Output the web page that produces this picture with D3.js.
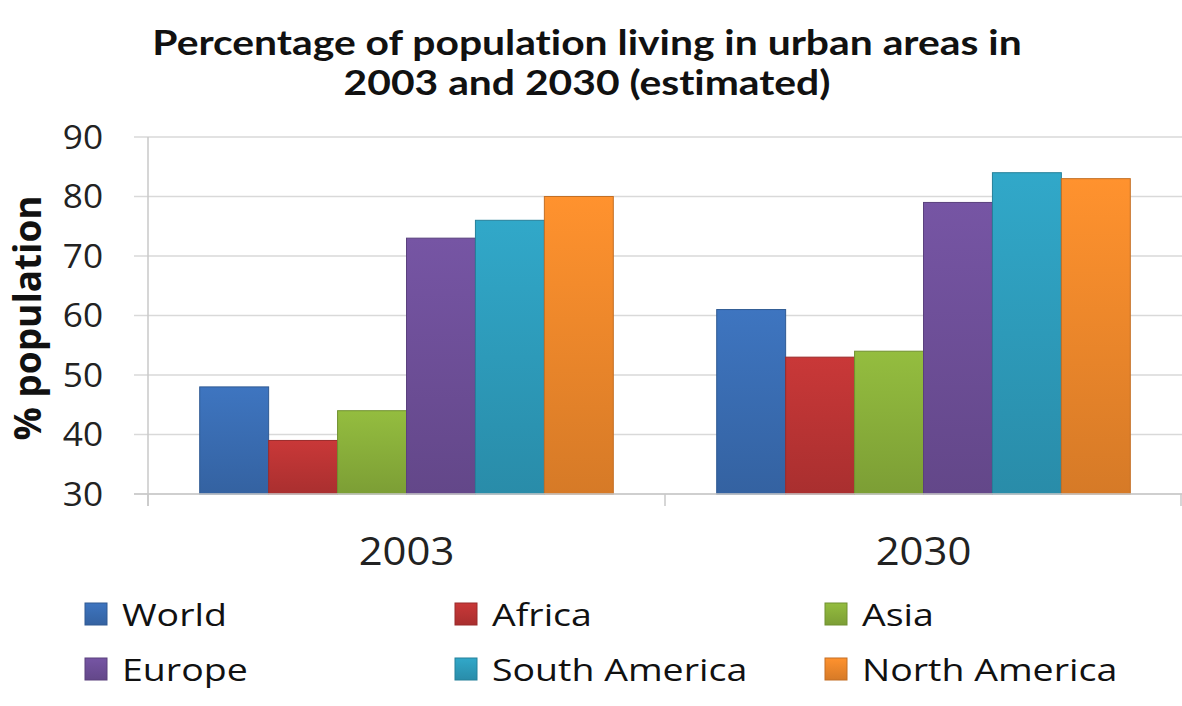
<!DOCTYPE html>
<html>
<head>
<meta charset="utf-8">
<script src="https://cdn.jsdelivr.net/npm/d3@7"></script>
<style>
  body { margin: 0; background: #fff; }
  svg { display: block; }
  text { font-variant-ligatures: none; }
</style>
</head>
<body>
<svg id="chart" width="1182" height="706"></svg>
<script>
// chart data
var years = ["2003", "2030"];
var regions = ["World", "Africa", "Asia", "Europe", "South America", "North America"];
var values2003 = [48, 39, 44, 73, 76, 80];
var values2030 = [61, 53, 54, 79, 84, 83];
var yTicks = [30, 40, 50, 60, 70, 80, 90];
var colors = ["#3b6fb6", "#bf3535", "#8cb33c", "#70519b", "#2e9fbf", "#f28a2c"];

var svg = d3.select("#chart");
var plotLeft = 148, plotRight = 1182, plotTop = 137, plotBottom = 494;

// x: year groups, then region bars inside each group
var x0 = d3.scaleBand().domain(years).range([plotLeft, plotRight]).paddingInner(0.2).paddingOuter(0.1);
var x1 = d3.scaleBand().domain(regions).range([0, x0.bandwidth()]);
var y = d3.scaleLinear().domain([30, 90]).range([plotBottom, plotTop]);
var color = d3.scaleOrdinal().domain(regions).range(colors);

// the original picture is a bit stretched sideways, so text gets an x scale
function wideText(parent, x, yPos, sx, str) {
    return parent.append("g")
        .attr("transform", "translate(" + x + "," + yPos + ") scale(" + sx + ",1)")
        .append("text")
        .text(str);
}

// gradients to get the bevelled bar look
var defs = svg.append("defs");
regions.forEach(function(r, i) {
    var c = d3.color(colors[i]);
    var g = defs.append("linearGradient").attr("id", "grad" + i)
        .attr("x1", 0).attr("y1", 0).attr("x2", 0).attr("y2", 1);
    g.append("stop").attr("offset", "0%").attr("stop-color", c.brighter(0.15));
    g.append("stop").attr("offset", "100%").attr("stop-color", c.darker(0.35));
});

// title
[["Percentage of population living in urban areas in", 55],
 ["2003 and 2030 (estimated)", 95]].forEach(function(t) {
    wideText(svg, 587, t[1], 1.2, t[0])
        .attr("text-anchor", "middle")
        .attr("font-family", "Lato, sans-serif")
        .attr("font-weight", "bold")
        .attr("font-size", 34)
        .attr("fill", "#111");
});

// gridlines
svg.append("g")
    .selectAll("line")
    .data(yTicks)
    .join("line")
    .attr("x1", plotLeft - 14)
    .attr("x2", plotRight)
    .attr("y1", d => y(d))
    .attr("y2", d => y(d))
    .attr("stroke", "#d9d9d9")
    .attr("stroke-width", 1.5);

// y axis: ticks from the scale, labels drawn stretched
var yAxis = svg.append("g")
    .attr("transform", "translate(" + plotLeft + ",0)")
    .call(d3.axisLeft(y).tickValues(yTicks).tickSize(0).tickFormat(""));
yAxis.select(".domain").remove();
yAxis.selectAll(".tick").each(function(d) {
    wideText(d3.select(this), -45, 11, 1.1, d)
        .attr("text-anchor", "end")
        .attr("font-family", "'Open Sans', sans-serif")
        .attr("font-size", 32)
        .attr("fill", "#222");
});

svg.append("line")
    .attr("x1", plotLeft).attr("x2", plotLeft)
    .attr("y1", plotTop).attr("y2", plotBottom + 12)
    .attr("stroke", "#c8c8c8").attr("stroke-width", 1.5);

// x axis labels
years.forEach(function(yr) {
    wideText(svg, x0(yr) + x0.bandwidth() / 2, 565, 1.1, yr)
        .attr("text-anchor", "middle")
        .attr("font-family", "'Open Sans', sans-serif")
        .attr("font-size", 38)
        .attr("fill", "#222");
});

svg.append("g")
    .selectAll("line")
    .data([plotLeft, plotLeft + x0.step(), plotRight - 1])
    .join("line")
    .attr("x1", d => d).attr("x2", d => d)
    .attr("y1", plotBottom).attr("y2", plotBottom + 12)
    .attr("stroke", "#c8c8c8").attr("stroke-width", 1.5);

// bars
var table = years.map(function(yr, i) {
    var vals = i === 0 ? values2003 : values2030;
    return { year: yr, items: regions.map((r, j) => ({ region: r, value: vals[j], idx: j })) };
});

svg.append("g")
    .selectAll("g")
    .data(table)
    .join("g")
    .attr("transform", d => "translate(" + x0(d.year) + ",0)")
    .selectAll("rect")
    .data(d => d.items)
    .join("rect")
    .attr("x", d => x1(d.region))
    .attr("y", d => y(d.value))
    .attr("width", x1.bandwidth())
    .attr("height", d => y(30) - y(d.value))
    .attr("fill", d => "url(#grad" + d.idx + ")")
    .attr("stroke", d => d3.color(color(d.region)).darker(0.6))
    .attr("stroke-width", 1);

svg.append("line")
    .attr("x1", plotLeft - 14).attr("x2", plotRight)
    .attr("y1", plotBottom).attr("y2", plotBottom)
    .attr("stroke", "#c8c8c8").attr("stroke-width", 1.5);

// y axis title
svg.append("text")
    .attr("transform", "translate(41,318) rotate(-90)")
    .attr("text-anchor", "middle")
    .attr("font-family", "'Open Sans', sans-serif")
    .attr("font-weight", "bold")
    .attr("font-size", 37)
    .attr("fill", "#111")
    .text("% population");

// legend, 3 columns x 2 rows
var legend = svg.append("g")
    .selectAll("g")
    .data(regions)
    .join("g")
    .attr("transform", (d, i) => "translate(" + (85 + (i % 3) * 370) + "," + (603 + Math.floor(i / 3) * 55) + ")");

legend.append("rect")
    .attr("width", 22).attr("height", 22)
    .attr("fill", (d, i) => "url(#grad" + i + ")")
    .attr("stroke", d => d3.color(color(d)).darker(0.6));

legend.append("g")
    .attr("transform", "translate(37,23) scale(1.21,1)")
    .append("text")
    .attr("font-family", "'Open Sans', sans-serif")
    .attr("font-size", 31)
    .attr("fill", "#111")
    .text(d => d);
</script>
</body>
</html>
